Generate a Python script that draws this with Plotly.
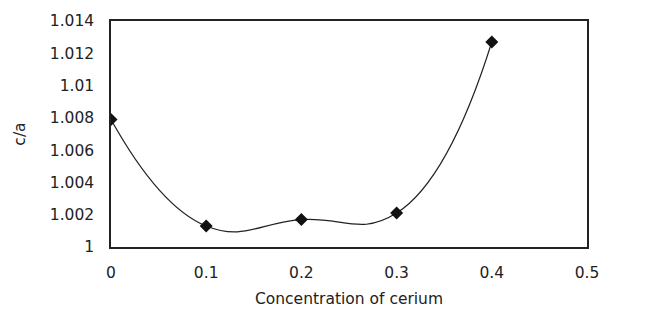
import plotly.graph_objects as go

cerium = [0, 0.1, 0.2, 0.3, 0.4]
c_over_a = [1.0079, 1.0013, 1.0017, 1.0021, 1.0127]
x_ticks = [0, 0.1, 0.2, 0.3, 0.4, 0.5]
y_ticks = [1, 1.002, 1.004, 1.006, 1.008, 1.01, 1.012, 1.014]
y_tick_text = ["1", "1.002", "1.004", "1.006", "1.008", "1.01", "1.012", "1.014"]

fig = go.Figure()
fig.add_trace(go.Scatter(
    x=cerium, y=c_over_a, mode="lines+markers",
    line=dict(color="#222", width=1.2, shape="spline", smoothing=1.3),
    marker=dict(symbol="diamond", size=10, color="#111"),
    showlegend=False,
))

axis_font = dict(family="DejaVu Sans, sans-serif", size=15.5, color="#222")
fig.update_layout(
    width=650, height=323,
    margin=dict(l=111, r=63, t=17, b=76),
    paper_bgcolor="white", plot_bgcolor="white",
    font=axis_font,
    xaxis=dict(
        range=[0, 0.5], tickvals=x_ticks, ticktext=[str(v) for v in x_ticks],
        showgrid=False, zeroline=False, showline=True, mirror=True,
        linecolor="#222", linewidth=1.5, ticks="outside", ticklen=11, tickcolor="white",
        tickfont=axis_font,
        title=dict(text="Concentration of cerium", font=axis_font, standoff=12),
    ),
    yaxis=dict(
        range=[1.0, 1.014], tickvals=y_ticks, ticktext=y_tick_text,
        showgrid=False, zeroline=False, showline=True, mirror=True,
        linecolor="#222", linewidth=1.5, ticks="outside", ticklen=12, tickcolor="white",
        tickfont=axis_font,
        title=dict(text="c/a", font=axis_font, standoff=20),
    ),
)

fig.write_html("out.html")
